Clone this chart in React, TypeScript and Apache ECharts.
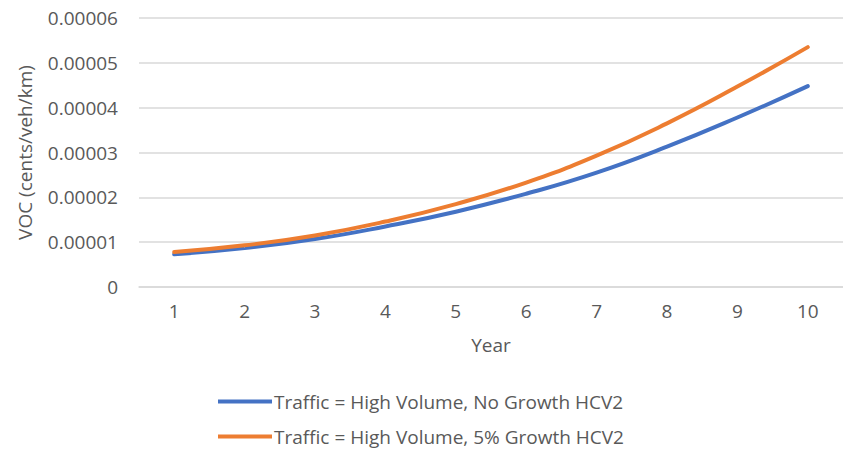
import React, { useEffect, useRef } from "react";
import * as echarts from "echarts";

const years = ["1", "2", "3", "4", "5", "6", "7", "8", "9", "10"];
const noGrowth = [0.0000073, 0.0000087, 0.0000107, 0.0000135, 0.0000168, 0.0000208, 0.0000255, 0.0000313, 0.0000378, 0.0000448];
const growth5 = [0.0000078, 0.0000093, 0.0000115, 0.0000146, 0.0000185, 0.0000233, 0.0000293, 0.0000365, 0.0000447, 0.0000535];
const seriesNames = ["Traffic = High Volume, No Growth HCV2", "Traffic = High Volume, 5% Growth HCV2"];
const yTicks = ["0", "0.00001", "0.00002", "0.00003", "0.00004", "0.00005", "0.00006"];

const FONT = "'Open Sans', sans-serif";
const GREY = "#595959";
const BLUE = "#4472C4";
const ORANGE = "#ED7D31";

export default function App() {
  const ref = useRef<HTMLDivElement>(null);
  useEffect(() => {
    if (!ref.current) return;
    const chart = echarts.init(ref.current, null, { renderer: "svg" });
    const legendBase = {
      orient: "horizontal",
      left: 213,
      itemWidth: 54,
      itemHeight: 4,
      icon: "rect",
      textStyle: { fontFamily: FONT, fontSize: 19, color: GREY, padding: [0, 0, 0, -3] },
    };
    chart.setOption({
      animation: false,
      backgroundColor: "#ffffff",
      textStyle: { fontFamily: FONT },
      grid: { left: 139, right: -8, top: 18, height: 269, containLabel: false },
      legend: [
        { ...legendBase, top: 387, data: [seriesNames[0]] },
        { ...legendBase, top: 422, data: [seriesNames[1]] },
      ],
      xAxis: {
        type: "category",
        data: years,
        boundaryGap: true,
        name: "Year",
        nameLocation: "middle",
        nameGap: 48,
        nameTextStyle: { fontFamily: FONT, fontSize: 19, color: GREY },
        axisLine: { show: true, lineStyle: { color: "#d9d9d9", width: 1.5 } },
        axisTick: { show: false },
        axisLabel: { fontFamily: FONT, fontSize: 19, color: GREY, margin: 14 },
      },
      yAxis: {
        type: "value",
        min: 0,
        max: 0.00006,
        interval: 0.00001,
        name: "VOC (cents/veh/km)",
        nameLocation: "middle",
        nameGap: 105,
        nameTextStyle: { fontFamily: FONT, fontSize: 19, color: GREY },
        axisLine: { show: false },
        axisTick: { show: false },
        splitLine: { lineStyle: { color: "#d9d9d9", width: 1.5 } },
        axisLabel: {
          fontFamily: FONT,
          fontSize: 19,
          color: GREY,
          margin: 21,
          formatter: (v: number) => yTicks[Math.round(v / 0.00001)] ?? String(v),
        },
      },
      series: [
        {
          name: seriesNames[0],
          type: "line",
          data: noGrowth,
          smooth: true,
          symbol: "none",
          lineStyle: { color: BLUE, width: 4, cap: "round" },
          itemStyle: { color: BLUE },
        },
        {
          name: seriesNames[1],
          type: "line",
          data: growth5,
          smooth: true,
          symbol: "none",
          lineStyle: { color: ORANGE, width: 4, cap: "round" },
          itemStyle: { color: ORANGE },
        },
      ],
    });
    return () => chart.dispose();
  }, []);
  return <div ref={ref} style={{ width: 843, height: 450, position: "absolute", left: 0, top: 0 }} />;
}
